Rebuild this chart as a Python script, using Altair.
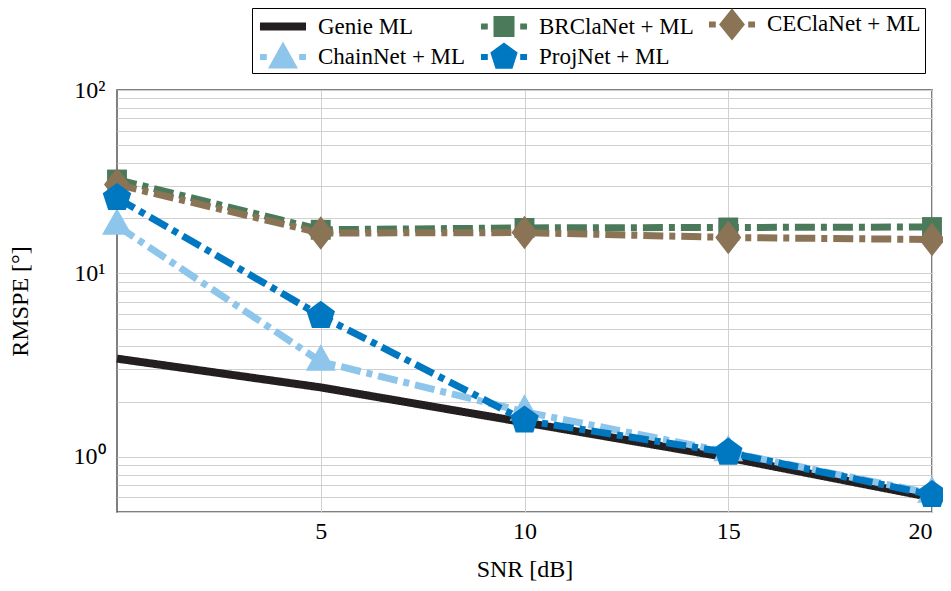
import altair as alt
import pandas as pd

# ---------------- data ----------------
snr = [0, 5, 10, 15, 20]
methods = ["Genie ML", "BRClaNet + ML", "CEClaNet + ML", "ChainNet + ML", "ProjNet + ML"]
genie_ml = [3.43, 2.39, 1.54, 0.99, 0.60]
brclanet_ml = [32.5, 17.3, 17.7, 17.8, 17.9]
ceclanet_ml = [30.5, 16.6, 16.7, 15.7, 15.3]
chainnet_ml = [18.2, 3.3, 1.76, 1.06, 0.63]
projnet_ml = [25.8, 5.87, 1.58, 1.055, 0.62]
x_ticks = [5, 10, 15, 20]
y_ticks = [0.5, 0.6, 0.7, 0.8, 0.9, 1, 2, 3, 4, 5, 6, 7, 8, 9,
           10, 20, 30, 40, 50, 60, 70, 80, 90, 100]

series = [genie_ml, brclanet_ml, ceclanet_ml, chainnet_ml, projnet_ml]
colors = ["#231f20", "#4a7a5a", "#8b7355", "#8ec5ea", "#0077c1"]
widths = [8, 7, 7, 7, 7]
dashes = [[1, 0], [20, 6, 6, 6], [20, 6, 6, 6], [20, 6, 6, 6], [20, 6, 6, 6]]

rows = []
for m, vals in zip(methods, series):
    for s, v in zip(snr, vals):
        rows.append({"Method": m, "SNR": s, "RMSPE": v})
df = pd.DataFrame(rows)

FONT = "Liberation Serif"


def rect(x0, x1, y0, y1):
    return f"M{x0},{y0}L{x1},{y0}L{x1},{y1}L{x0},{y1}Z"


# chart marker shapes (unit = sqrt(size)/2); Genie ML has no markers
marker_paths = [
    None,
    rect(-0.71, 0.71, -0.71, 0.71),
    "M0,-1.2L0.93,0L0,1.2L-0.93,0Z",
    "M0,-1.25L1.07,0.65L-1.07,0.65Z",
    "M0,-1.07L1.018,-0.331L0.629,0.866L-0.629,0.866L-1.018,-0.331Z",
]

# legend symbols: short line pieces + marker
dash = rect(-1.92, -1.35, -0.25, 0.25) + rect(1.35, 1.92, -0.25, 0.25)
legend_paths = [
    rect(-1.92, 1.92, -0.33, 0.33),
    dash + rect(-0.875, 0.875, -0.875, 0.875),
    dash + "M0,-1.35L1.08,0L0,1.35L-1.08,0Z",
    dash + "M0,-1.3L1.25,0.95L-1.25,0.95Z",
    dash + "M0,-1.2L1.141,-0.371L0.705,0.971L-0.705,0.971L-1.141,-0.371Z",
]
expr = "".join(f"datum.value === '{m}' ? '{p}' : " for m, p in zip(methods[:-1], legend_paths[:-1]))
expr += f"'{legend_paths[-1]}'"

x_enc = alt.X("SNR:Q", title="SNR [dB]",
              scale=alt.Scale(domain=[0, 20], nice=False, zero=False),
              axis=alt.Axis(values=x_ticks, format="d", labelPadding=7, titlePadding=14))
y_enc = alt.Y("RMSPE:Q", title="RMSPE [°]",
              scale=alt.Scale(type="log", domain=[0.5, 100], nice=False),
              axis=alt.Axis(values=y_ticks, labelPadding=12, titlePadding=41,
                            labelExpr="datum.value == 100 ? '10²' : datum.value == 10 ? '10¹' : datum.value == 1 ? '10⁰' : ''"))

layers = []
for m, c, w, d in zip(methods, colors, widths, dashes):
    layers.append(
        alt.Chart(df[df.Method == m]).mark_line(
            color=c, strokeWidth=w, strokeDash=d, strokeCap="butt", strokeJoin="miter"
        ).encode(x=x_enc, y=y_enc)
    )

for m, c, p in zip(methods, colors, marker_paths):
    if p is None:
        continue
    layers.append(
        alt.Chart(df[df.Method == m]).mark_point(
            filled=True, size=784, opacity=1, strokeWidth=0, color=c, shape=p
        ).encode(x=x_enc, y=y_enc)
    )

legend = alt.Legend(
    title=None, orient="none", legendX=135, legendY=-82, columns=3, direction="horizontal",
    symbolSize=576, symbolStrokeWidth=0, symbolOffset=15, labelOffset=23,
    symbolType=alt.ExprRef(expr=expr), symbolOpacity=1,
    labelFont=FONT, labelFontSize=23, labelColor="black", labelLimit=400,
    padding=4, rowPadding=0, columnPadding=11,
    strokeColor="black", fillColor="white",
)

# legend carrier: zero-size points, only there to produce the legend
legend_layer = alt.Chart(df).mark_point(filled=True, size=0, strokeWidth=0).encode(
    x=x_enc, y=y_enc,
    color=alt.Color("Method:N", scale=alt.Scale(domain=methods, range=colors), legend=legend),
)
layers.append(legend_layer)

chart = alt.layer(*layers).properties(
    width=815, height=422,
    autosize=alt.AutoSizeParams(type="none"),
    padding={"left": 109, "top": 82, "right": 11, "bottom": 71},
    background="white",
).configure_view(
    stroke="#555555", strokeWidth=1.5
).configure_axis(
    labelFont=FONT, labelFontSize=24, labelColor="black",
    titleFont=FONT, titleFontSize=24, titleColor="black", titleFontWeight="normal",
    grid=True, gridColor="#d0d0d0", gridWidth=1,
    ticks=False, domain=False,
)

chart.save("out.html", embed_options={"renderer": "svg", "actions": False})
